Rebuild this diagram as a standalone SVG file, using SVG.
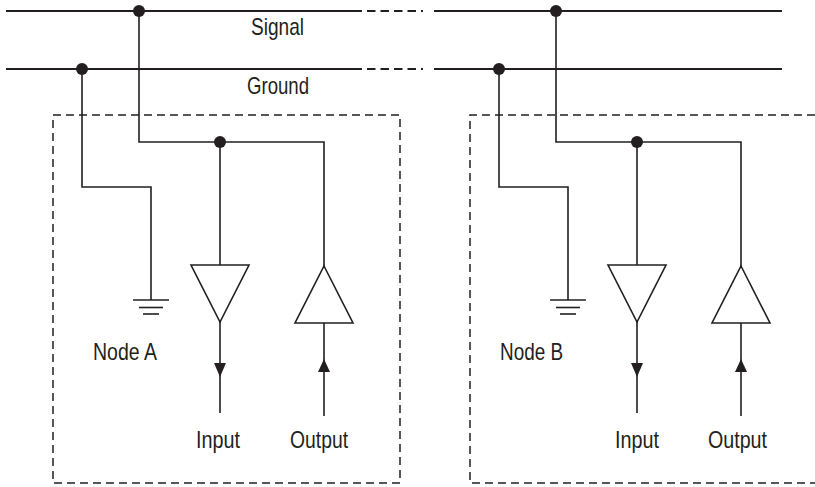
<svg xmlns="http://www.w3.org/2000/svg" width="815" height="487" viewBox="0 0 815 487">
<style>
.w{fill:none;stroke:#231f20;stroke-width:1.6}
.bus{fill:none;stroke:#231f20;stroke-width:2}
.dsh{fill:none;stroke:#231f20;stroke-width:2;stroke-dasharray:8.5 5}
.box{fill:none;stroke:#231f20;stroke-width:1.5;stroke-dasharray:8 5}
.tri{fill:#fff;stroke:#231f20;stroke-width:1.6}
.dot{fill:#231f20}
.ah{fill:#231f20}
text{font-family:"Liberation Sans",Arial,sans-serif;font-size:24px;fill:#231f20}
</style>
<rect width="815" height="487" fill="#fff"/>
<g id="buses">
<line class="bus" x1="6" y1="11" x2="362" y2="11"/>
<line class="dsh" x1="367" y1="11" x2="423" y2="11"/>
<line class="bus" x1="434" y1="11" x2="782" y2="11"/>
<line class="bus" x1="6" y1="69" x2="362" y2="69"/>
<line class="dsh" x1="367" y1="69" x2="423" y2="69"/>
<line class="bus" x1="434" y1="69" x2="782" y2="69"/>
<text x="251" y="35" textLength="53" lengthAdjust="spacingAndGlyphs">Signal</text>
<text x="247" y="94" textLength="62" lengthAdjust="spacingAndGlyphs">Ground</text>
</g>
<g id="connectors">
<polyline class="w" points="139,11 139,142 324,142 324,266"/>
<line class="w" x1="220" y1="142" x2="220" y2="265"/>
<polyline class="w" points="82,69 82,187 151,187 151,300"/>
<line class="w" x1="220" y1="322" x2="220" y2="413"/>
<line class="w" x1="324" y1="323" x2="324" y2="416"/>
<polygon class="ah" points="214,363 226,363 220,377"/>
<polygon class="ah" points="318,372 330,372 324,359"/>
<polyline class="w" points="556,11 556,142 741,142 741,266"/>
<line class="w" x1="637" y1="142" x2="637" y2="265"/>
<polyline class="w" points="499,69 499,187 568,187 568,300"/>
<line class="w" x1="637" y1="322" x2="637" y2="413"/>
<line class="w" x1="741" y1="323" x2="741" y2="416"/>
<polygon class="ah" points="631,363 643,363 637,377"/>
<polygon class="ah" points="735,372 747,372 741,359"/>
</g>
<g id="nodeA">
<rect class="box" x="53" y="115" width="347" height="368"/>
<circle class="dot" cx="139" cy="11" r="6"/>
<circle class="dot" cx="82" cy="69" r="6"/>
<circle class="dot" cx="220" cy="142" r="6"/>
<g id="groundA">
<line class="w" x1="133" y1="300" x2="169" y2="300"/>
<line class="w" x1="139" y1="307.5" x2="163" y2="307.5"/>
<line class="w" x1="143" y1="314" x2="159" y2="314"/>
</g>
<polygon class="tri" points="191,265 249,265 220,322"/>
<polygon class="tri" points="324,266 353,323 295,323"/>
<text x="93" y="360" textLength="64" lengthAdjust="spacingAndGlyphs">Node A</text>
<text x="196" y="448" textLength="44" lengthAdjust="spacingAndGlyphs">Input</text>
<text x="290" y="448" textLength="58" lengthAdjust="spacingAndGlyphs">Output</text>
</g>
<g id="nodeB">
<path class="box" d="M815,115 H470 V483 H815"/>
<circle class="dot" cx="556" cy="11" r="6"/>
<circle class="dot" cx="499" cy="69" r="6"/>
<circle class="dot" cx="637" cy="142" r="6"/>
<g id="groundB">
<line class="w" x1="550" y1="300" x2="586" y2="300"/>
<line class="w" x1="556" y1="307.5" x2="580" y2="307.5"/>
<line class="w" x1="560" y1="314" x2="576" y2="314"/>
</g>
<polygon class="tri" points="608,265 666,265 637,322"/>
<polygon class="tri" points="741,266 770,323 712,323"/>
<text x="500" y="360" textLength="63" lengthAdjust="spacingAndGlyphs">Node B</text>
<text x="615" y="448" textLength="44" lengthAdjust="spacingAndGlyphs">Input</text>
<text x="708" y="448" textLength="59" lengthAdjust="spacingAndGlyphs">Output</text>
</g>
</svg>
